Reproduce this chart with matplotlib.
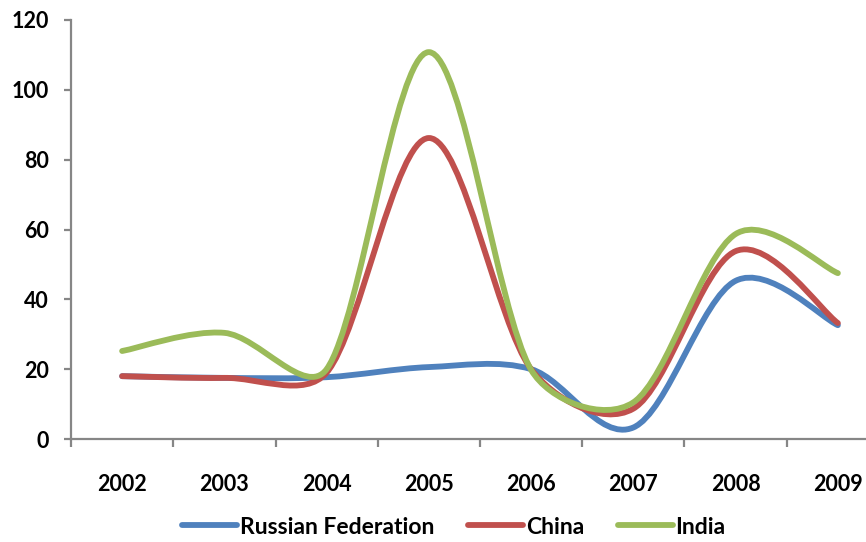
import numpy as np
import matplotlib
matplotlib.use("Agg")
import matplotlib.pyplot as plt
from matplotlib.path import Path
from matplotlib.patches import PathPatch
from matplotlib.lines import Line2D

years = ["2002", "2003", "2004", "2005", "2006", "2007", "2008", "2009"]
russia = [18, 17.5, 17.7, 20.6, 20, 3.3, 45.3, 32.6]
china = [18, 17.5, 19, 86.2, 20, 8.7, 53.8, 33.2]
india = [25.2, 30.4, 20, 110.8, 19.8, 10.5, 58.7, 47.5]

series = [
    ("Russian Federation", russia, "#4F81BD"),
    ("China", china, "#C0504D"),
    ("India", india, "#9BBB59"),
]

FONT = "Lato"
W, H = 866, 542
fig = plt.figure(figsize=(W / 100, H / 100), dpi=100)
ax = fig.add_axes([71 / W, (H - 439) / H, 818 / W, 419 / H])

n = len(years)
ax.set_xlim(-0.5, n - 0.5)
ax.set_ylim(0, 120)


def smooth_path(xs, ys):
    """Cardinal Bezier smoothing in display space; a tangent is shortened
    when its neighbouring segment is short compared with the chord."""
    pts = ax.transData.transform(np.column_stack([xs, ys]))
    m = len(pts)
    f = 1.0 / 6.0

    def handles(i):
        p_prev = pts[max(i - 1, 0)]
        p_next = pts[min(i + 1, m - 1)]
        p = pts[i]
        d02 = np.hypot(*(p_next - p_prev))
        d_in = np.hypot(*(p - p_prev))
        d_out = np.hypot(*(p_next - p))
        tan = (p_next - p_prev) * f
        s_in = min(1.0, 2 * d_in / d02) if d02 > 0 else 1.0
        s_out = min(1.0, 2 * d_out / d02) if d02 > 0 else 1.0
        return p - tan * s_in, p + tan * s_out

    verts = [pts[0]]
    codes = [Path.MOVETO]
    for i in range(m - 1):
        _, c1 = handles(i)
        c2, _ = handles(i + 1)
        verts += [c1, c2, pts[i + 1]]
        codes += [Path.CURVE4] * 3
    verts = ax.transData.inverted().transform(np.array(verts))
    return Path(verts, codes)


xs = np.arange(n)
LW = 4.2
for name, vals, col in series:
    patch = PathPatch(smooth_path(xs, vals), facecolor="none", edgecolor=col,
                      lw=LW, capstyle="round", joinstyle="round")
    ax.add_patch(patch)

# axes styling
axis_col = "#868686"
for s in ["top", "right"]:
    ax.spines[s].set_visible(False)
for s in ["left", "bottom"]:
    ax.spines[s].set_color(axis_col)
    ax.spines[s].set_linewidth(1.6)

ax.set_yticks(np.arange(0, 121, 20))
ax.tick_params(axis="y", direction="out", length=5, width=1.6, color=axis_col,
               pad=11, labelsize=15.5)
ax.set_xticks(xs)
ax.set_xticklabels(years)
ax.set_xticks(np.arange(-0.5, n, 1.0), minor=True)
ax.tick_params(axis="x", which="major", length=0, pad=25, labelsize=15.5)
ax.tick_params(axis="x", which="minor", direction="out", length=6, width=1.6,
               color=axis_col)
for lab in ax.get_xticklabels() + ax.get_yticklabels():
    lab.set_fontfamily(FONT)
    lab.set_fontweight("bold")

handles_ = [Line2D([], [], color=c, lw=LW, solid_capstyle="round") for _, _, c in series]
fig.legend(handles_, [s[0] for s in series], loc="center", bbox_to_anchor=(454 / W, 1 - 527 / H),
           ncol=3, frameon=False, handlelength=2.4, handletextpad=0.1,
           columnspacing=1.5, borderaxespad=0, borderpad=0,
           prop={"family": FONT, "weight": "bold", "size": 16.5})

fig.savefig("out.png", dpi=100)
